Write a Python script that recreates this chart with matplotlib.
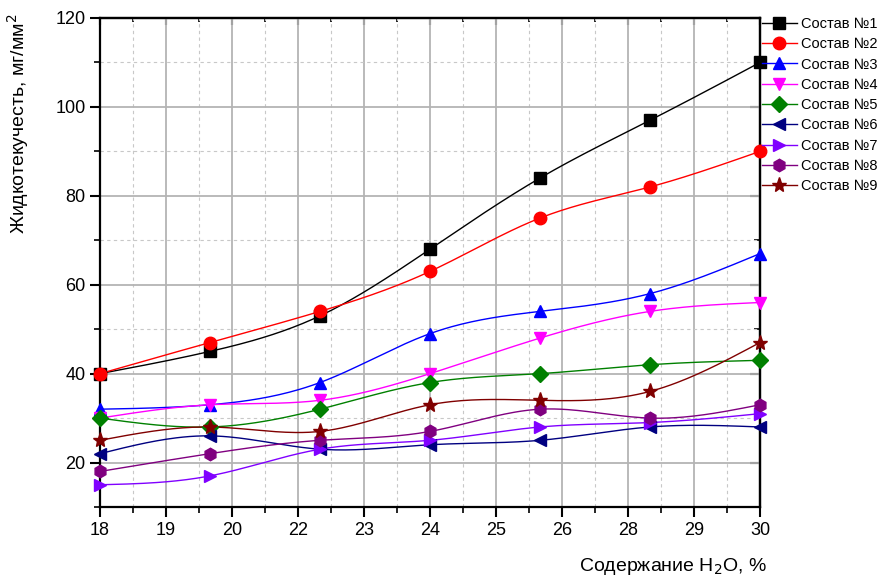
import numpy as np
import matplotlib
matplotlib.use('Agg')
import matplotlib.pyplot as plt
from matplotlib.ticker import FixedLocator, FormatStrFormatter, NullFormatter

plt.rcParams['font.family'] = ['Liberation Sans', 'DejaVu Sans']

water = [18, 20, 22, 24, 26, 28, 30]
labels = ['Состав №1', 'Состав №2', 'Состав №3', 'Состав №4', 'Состав №5',
          'Состав №6', 'Состав №7', 'Состав №8', 'Состав №9']
s1 = [40, 45, 53, 68, 84, 97, 110]
s2 = [40, 47, 54, 63, 75, 82, 90]
s3 = [32, 33, 38, 49, 54, 58, 67]
s4 = [30, 33, 34, 40, 48, 54, 56]
s5 = [30, 28, 32, 38, 40, 42, 43]
s6 = [22, 26, 23, 24, 25, 28, 28]
s7 = [15, 17, 23, 25, 28, 29, 31]
s8 = [18, 22, 25, 27, 32, 30, 33]
s9 = [25, 28, 27, 33, 34, 36, 47]
series = [s1, s2, s3, s4, s5, s6, s7, s8, s9]

colors = ['#000000', '#ff0000', '#0000ff', '#ff00ff', '#008000',
          '#000080', '#8000ff', '#800080', '#800000']
markers = ['s', 'o', '^', 'v', 'D', '<', '>', 'h', '*']
msizes = [8, 9, 9, 9, 8, 9, 9, 9, 11]


def spline(x, y, n=200):
    # natural cubic spline, just for drawing the smooth connecting line
    x = np.asarray(x, float)
    y = np.asarray(y, float)
    k = len(x)
    h = np.diff(x)
    A = np.zeros((k, k))
    b = np.zeros(k)
    A[0, 0] = A[-1, -1] = 1
    for i in range(1, k - 1):
        A[i, i - 1] = h[i - 1]
        A[i, i] = 2 * (h[i - 1] + h[i])
        A[i, i + 1] = h[i]
        b[i] = 6 * ((y[i + 1] - y[i]) / h[i] - (y[i] - y[i - 1]) / h[i - 1])
    m = np.linalg.solve(A, b)
    xs = np.linspace(x[0], x[-1], n)
    idx = np.clip(np.searchsorted(x, xs) - 1, 0, k - 2)
    t0 = x[idx]
    t1 = x[idx + 1]
    hh = t1 - t0
    a = (t1 - xs) / hh
    c = (xs - t0) / hh
    ys = (a * y[idx] + c * y[idx + 1]
          + ((a ** 3 - a) * m[idx] + (c ** 3 - c) * m[idx + 1]) * hh ** 2 / 6)
    return xs, ys


fig = plt.figure(figsize=(8.87, 5.85), dpi=100)
ax = fig.add_axes([100 / 887, 1 - 507 / 585, 660 / 887, 489 / 585])

for vals, col, mk, ms, lab in zip(series, colors, markers, msizes, labels):
    xs, ys = spline(water, vals)
    ax.plot(xs, ys, color=col, lw=1.0, zorder=3)
    ax.plot(water, vals, linestyle='none', marker=mk, ms=ms, color=col,
            zorder=4, clip_on=False)
    ax.plot([], [], color=col, lw=1.0, marker=mk, ms=ms, label=lab)

ax.set_xlim(18, 30)
ax.set_ylim(10, 120)
xt = np.linspace(18, 30, 11)
xminor = xt[:-1] + 0.6
yt = [20, 40, 60, 80, 100, 120]
yminor = [10, 30, 50, 70, 90, 110]
ax.xaxis.set_major_locator(FixedLocator(xt))
ax.xaxis.set_minor_locator(FixedLocator(xminor))
ax.xaxis.set_major_formatter(FormatStrFormatter('%.0f'))
ax.yaxis.set_major_locator(FixedLocator(yt))
ax.yaxis.set_minor_locator(FixedLocator(yminor))

ax.grid(True, which='major', color='#b4b4b4', lw=1.3, zorder=0)
ax.grid(True, which='minor', color='#c8c8c8', lw=0.8, ls=(0, (3, 3)), zorder=0)
ax.set_axisbelow(True)

ax.tick_params(which='major', direction='out', length=7, width=1.5, labelsize=13)
ax.tick_params(which='minor', direction='out', length=4, width=1.2)
for s in ax.spines.values():
    s.set_linewidth(1.6)
    s.set_color('black')

# top and right: ticks pointing inward, no labels
top = ax.secondary_xaxis('top')
top.xaxis.set_major_locator(FixedLocator(xt))
top.xaxis.set_minor_locator(FixedLocator(xminor))
top.xaxis.set_major_formatter(NullFormatter())
top.tick_params(which='major', direction='in', length=5, width=1.5)
top.tick_params(which='minor', direction='in', length=3, width=1.2)
top.spines['top'].set_linewidth(1.6)

right = ax.secondary_yaxis('right')
right.yaxis.set_major_locator(FixedLocator(yt))
right.yaxis.set_minor_locator(FixedLocator(yminor))
right.yaxis.set_major_formatter(NullFormatter())
right.tick_params(which='major', direction='in', length=7, width=1.5)
right.tick_params(which='minor', direction='in', length=4, width=1.2)
right.spines['right'].set_linewidth(1.6)

ax.set_ylabel('Жидкотекучесть, мг/мм$^2$', fontsize=14, loc='top')
ax.yaxis.set_label_coords(-0.105, 1.01)
ax.set_xlabel('Содержание H$_2$O, %', fontsize=14, loc='right')
ax.xaxis.set_label_coords(1.01, -0.1)

fig.legend(loc='upper left', bbox_to_anchor=(762 / 887, 1 - 17 / 585),
           frameon=False, fontsize=10.5, handlelength=2.4, handletextpad=0.3,
           labelspacing=0.43, borderpad=0, borderaxespad=0)

fig.savefig('out.png', dpi=100)
